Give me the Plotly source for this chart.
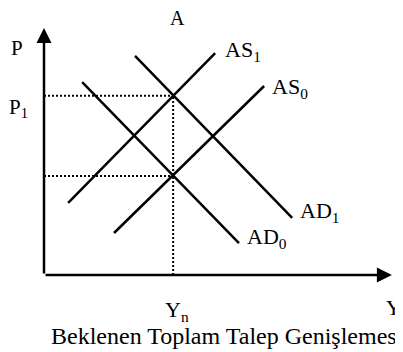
import plotly.graph_objects as go

# Curve end points (output on x, price level on y)
as0_x = [2.0, 6.29]
as0_y = [1.2, 5.4]
as1_x = [0.69, 4.89]
as1_y = [2.06, 6.34]
ad0_x = [1.09, 5.57]
ad0_y = [5.51, 0.91]
ad1_x = [2.6, 7.09]
ad1_y = [6.26, 1.63]

# Equilibrium levels
yn = 3.69
p0 = 2.83
p1 = 5.12

# Axis lengths
x_end = 9.94
y_end = 7.06

FONT = "Liberation Serif, Times New Roman, serif"

fig = go.Figure()

# dotted guide lines
fig.add_trace(go.Scatter(x=[0, yn], y=[p1, p1], mode="lines",
                         line=dict(color="black", width=2, dash="2px,2px")))
fig.add_trace(go.Scatter(x=[0, yn], y=[p0, p0], mode="lines",
                         line=dict(color="black", width=2, dash="2px,2px")))
fig.add_trace(go.Scatter(x=[yn, yn], y=[0, p1], mode="lines",
                         line=dict(color="black", width=2, dash="2px,2px")))

# AS / AD curves
for cx, cy in [(as0_x, as0_y), (as1_x, as1_y), (ad0_x, ad0_y), (ad1_x, ad1_y)]:
    fig.add_trace(go.Scatter(x=cx, y=cy, mode="lines",
                             line=dict(color="black", width=2.5)))

# axes drawn as arrows
for tx, ty in [(0, y_end), (x_end, 0)]:
    fig.add_annotation(x=tx, y=ty, ax=0, ay=0, xref="x", yref="y",
                       axref="x", ayref="y", showarrow=True, text="",
                       arrowhead=2, arrowwidth=2.5, arrowsize=1.2,
                       arrowcolor="black")

labels = [
    ("A", 3.8, 7.33, "center", 20),
    ("P", -0.77, 6.5, "center", 21),
    ("P<sub>1</sub>", -0.72, 4.78, "center", 21),
    ("AS<sub>1</sub>", 5.12, 6.4, "left", 22),
    ("AS<sub>0</sub>", 6.45, 5.33, "left", 22),
    ("AD<sub>1</sub>", 7.27, 1.8, "left", 22),
    ("AD<sub>0</sub>", 5.75, 1.06, "left", 22),
    ("Y<sub>n</sub>", 3.4, -1.02, "left", 22),
    ("Y", 9.7, -0.93, "left", 21),
    ("Beklenen Toplam Talep Genişlemesi", 0.14, -1.73, "left", 24),
]
for txt, lx, ly, anc, size in labels:
    fig.add_annotation(x=lx, y=ly, text=txt, showarrow=False, xanchor=anc,
                       yanchor="middle", font=dict(family=FONT, size=size, color="black"))

# page body has an 8px margin, so the figure starts 8px in
fig.update_layout(
    width=395, height=344,
    margin=dict(l=0, r=0, t=0, b=0),
    paper_bgcolor="white", plot_bgcolor="white",
    showlegend=False,
    xaxis=dict(range=[-36 / 35, 359 / 35], visible=False, fixedrange=True),
    yaxis=dict(range=[-77 / 35, 267 / 35], visible=False, fixedrange=True),
)

fig.write_html("out.html")
